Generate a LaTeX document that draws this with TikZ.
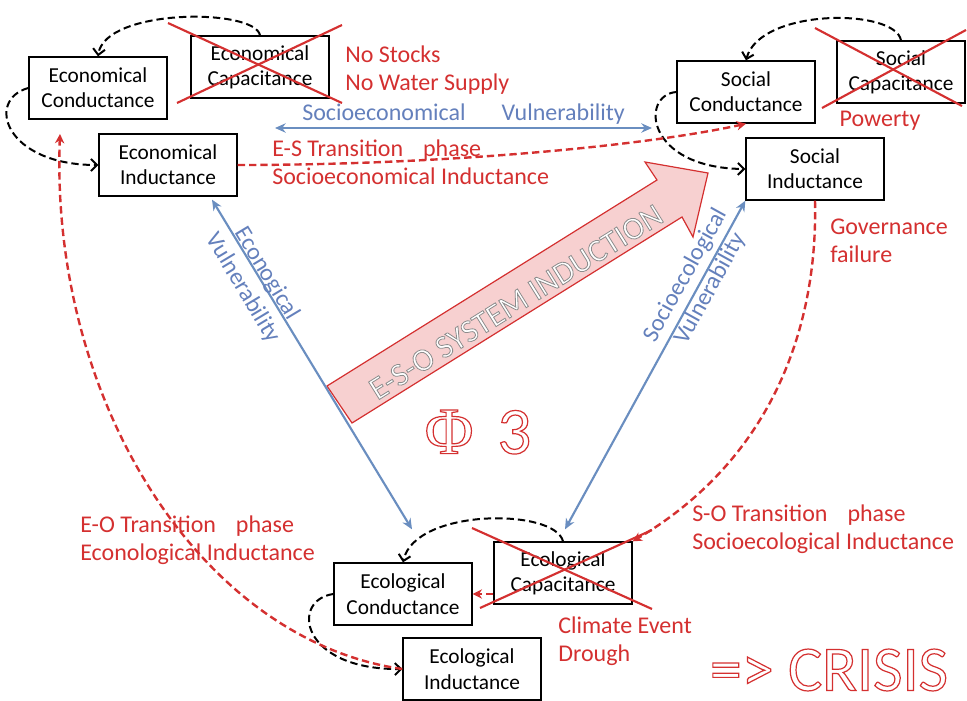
\documentclass[tikz,border=0pt]{standalone}
\usepackage{fontspec}
\setmainfont{Carlito}
\newfontfamily\phifont{Liberation Serif}
\usetikzlibrary{arrows.meta,calc}
\definecolor{myred}{RGB}{212,48,48}
\definecolor{myblue}{RGB}{106,142,192}
\definecolor{bluetext}{RGB}{100,128,188}
\definecolor{pinkfill}{RGB}{247,208,208}
\newcommand{\hollowred}[1]{{\color{white}\special{pdf:literal direct 0.83 0.19 0.19 RG 0.9 w 2 Tr}#1\special{pdf:literal direct 0 Tr}}}
\newcommand{\hollowgray}[1]{{\color{white}\special{pdf:literal direct 0.55 G 0.6 w 2 Tr}#1\special{pdf:literal direct 0 Tr}}}
\tikzset{
  box/.style={draw, line width=1.5pt, fill=white, minimum width=103pt, minimum height=46pt,
    align=center, inner sep=0pt, font=\fontsize{16}{19}\selectfont},
  lbl/.style={text=myred, font=\fontsize{18}{21}\selectfont, align=left, anchor=west, inner sep=0pt},
  blbl/.style={text=bluetext, font=\fontsize{18}{21}\selectfont, align=center, inner sep=0pt},
  bd/.style={black, line width=1.5pt, dash pattern=on 5.5pt off 3pt,
    -{Straight Barb[length=4.5pt,width=9pt,line width=1.5pt]}},
  rd/.style={myred, line width=1.8pt, dash pattern=on 5.5pt off 3pt,
    -{Stealth[length=7pt,width=7pt]}},
  blu/.style={myblue, line width=1.6pt, {Stealth[length=8pt,width=7pt]}-{Stealth[length=8pt,width=7pt]}},
  cross/.style={myred, line width=1.6pt},
}
\begin{document}
\begin{tikzpicture}[x=0.75pt,y=-0.75pt]
\useasboundingbox (0,0) rectangle (967,700);

% big arrow
\draw[myred, line width=0.9pt, fill=pinkfill]
  (327,386) -- (657,180) -- (645,162) -- (708,173) -- (693,237) -- (682,217) -- (352,423) -- cycle;
\node[rotate=32, font=\fontsize{24}{28}\selectfont, inner sep=0pt] (sysind) at (516,302)
  {\hollowgray{E-S-O SYSTEM INDUCTION}};

% boxes
\node[box] (ECd) at (98,88) {Economical\\Conductance};
\node[box] (ECp) at (260,67) {Economical\\Capacitance};
\node[box] (EI) at (168,165) {Economical\\Inductance};
\node[box] (SC) at (746,92) {Social\\Conductance};
\node[box, minimum width=96pt] (SCp) at (901,72) {Social\\Capacitance};
\node[box] (SI) at (815,169) {Social\\Inductance};
\node[box] (OC) at (403,594) {Ecological\\Conductance};
\node[box] (OCp) at (563,573) {Ecological\\Capacitance};
\node[box] (OI) at (472,669) {Ecological\\Inductance};

% blue vulnerability arrows
\coordinate (sevL) at (275,128);
\coordinate (sevR) at (652,128);
\draw[blu] (sevL) -- (sevR);
\coordinate (evT) at ($(EI.south)+(44,3)$);
\coordinate (evB) at ($(OC.north)+(9,-33)$);
\draw[blu] (evT) -- (evB);
\coordinate (seT) at (SI.south west);
\coordinate (seB) at ($(OCp.north)+(2,-12)$);
\draw[blu] (seB) -- (seT);

\node[blbl, anchor=west] (sevlbl) at (302,114) {Socioeconomical\hspace{27pt}Vulnerability};
\node[blbl, rotate=-59] (evlbl) at (255,281) {Econogical\\Vulnerability};
\node[blbl, rotate=61] (selbl) at (698,282) {Socioecological\\Vulnerability};

% black dashed loops
\draw[bd] (ECp.north) .. controls (255,8) and (105,8) .. (ECd.north);
\draw[bd] (ECd.west) .. controls (-15,100) and (5,165) .. (EI.west);
\draw[bd] (SCp.north) .. controls (895,8) and (760,8) .. (SC.north);
\draw[bd] (SC.west) .. controls (640,95) and (645,168) .. (SI.west);
\draw[bd] (OCp.north) .. controls (555,508) and (415,508) .. (OC.north);
\draw[bd] (OC.west) .. controls (290,600) and (300,670) .. (OI.west);

% red dashed transitions
\draw[rd] (EI.east) .. controls (450,165) and (650,145) .. (SC.south);
\draw[rd] (SI.south) .. controls (818,330) and (770,460) .. (OCp.north east);
\draw[rd] (OCp.west |- OC.east) -- (OC.east);
\coordinate (eoEnd) at (60,134);
\draw[rd] (OI.west) .. controls (200,640) and (50,400) .. (eoEnd);

% crosses
\draw[cross] (168,23) -- (342,103);
\draw[cross] (177,103) -- (342,25);
\draw[cross] (815,28) -- (962,106);
\draw[cross] (822,108) -- (966,30);
\draw[cross] (472,528) -- (652,609);
\draw[cross] (480,608) -- (652,530);

% red labels
\node[lbl] (stocks) at (345,70) {No Stocks\\No Water Supply};
\node[lbl, anchor=center] (pow) at (880,121) {Powerty};
\node[lbl] (es) at (272,162) {E-S Transition\hspace{15pt}phase\\Socioeconomical Inductance};
\node[lbl] (gov) at (830,241) {Governance\\failure};
\node[lbl] (so) at (692,529) {S-O Transition\hspace{15pt}phase\\Socioecological Inductance};
\node[lbl] (eo) at (80,540) {E-O Transition\hspace{15pt}phase\\Econological Inductance};
\node[lbl] (clim) at (558,641) {Climate Event\\Drough};

% outlined texts
\node[inner sep=0pt] (phi) at (478,432)
  {\hollowred{\fontsize{50}{50}\selectfont\phifont Φ\hspace{18pt}\normalfont 3}};
\node[inner sep=0pt] (crisis) at (829,670)
  {\hollowred{\fontsize{48}{48}\selectfont => CRISIS}};
\end{tikzpicture}
\end{document}
